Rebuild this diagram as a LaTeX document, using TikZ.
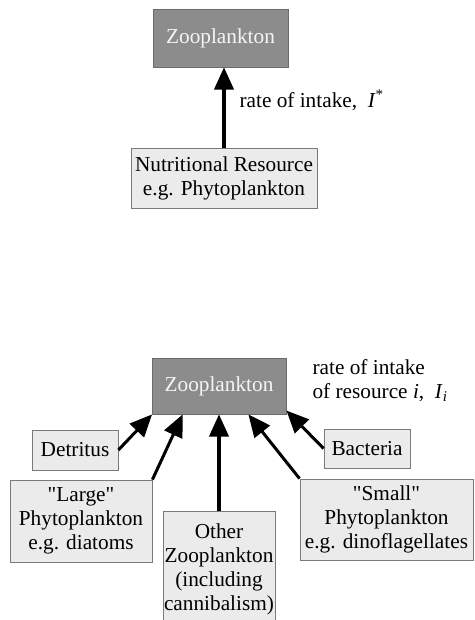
\documentclass[tikz,border=0pt]{standalone}
\usepackage{fontspec}
\setmainfont{Liberation Serif}
\usetikzlibrary{arrows.meta}

\begin{document}
\begin{tikzpicture}[x=0.035cm,y=-0.035cm,
    font=\fontsize{21.2}{23.9}\selectfont,
    zoobox/.style={draw=black!58, fill=black!45, text=black!4, line width=0.8pt, inner sep=0pt},
    foodbox/.style={draw=black!52, fill=black!8, line width=0.8pt, align=center, inner sep=0pt},
    feeds/.style={-{Triangle[length=0.78cm,width=0.68cm]}, line width=3pt}]
    \useasboundingbox (0,0) rectangle (475,620);

    % Schéma du haut : une seule ressource
    \node[zoobox, minimum width=4.73cm, minimum height=2.03cm] (zooA) at (220.5,38) {Zooplankton};
    \node[foodbox, minimum width=6.51cm, minimum height=2.1cm] (res) at (224,178)
        {Nutritional Resource\\e.g. Phytoplankton};
    \draw[feeds] (res.north) -- (res.north |- zooA.south);
    \node[anchor=west] (rateA) at (236,100) {rate of intake,\ \ \textit{I}\textsuperscript{*}};

    % Schéma du bas : plusieurs ressources i
    \node[zoobox, minimum width=4.69cm, minimum height=1.96cm] (zooB) at (219,386) {Zooplankton};
    \node[anchor=west, align=left] (rateB) at (309,381)
        {rate of intake\\of resource \textit{i},\ \ \textit{I}\textsubscript{\textit{i}}};

    \node[foodbox, minimum width=3.01cm, minimum height=1.4cm] (det) at (75,450) {Detritus};
    \node[foodbox, minimum width=3.01cm, minimum height=1.37cm] (bac) at (367,448.5) {Bacteria};
    \node[foodbox, minimum width=4.97cm, minimum height=2.87cm] (large) at (81,521)
        {\textquotedbl Large\textquotedbl\\Phytoplankton\\e.g. diatoms};
    \node[foodbox, minimum width=3.92cm, minimum height=4cm] (other) at (219,569)
        {Other\\Zooplankton\\(including\\cannibalism)};
    \node[foodbox, minimum width=6.06cm, minimum height=2.84cm] (small) at (386.5,519.5)
        {\textquotedbl Small\textquotedbl\\Phytoplankton\\e.g. dinoflagellates};

    % Flèches vers le zooplancton
    \draw[feeds] (det.east) -- (zooB.203);
    \draw[feeds] (large.north east) -- (zooB.218);
    \draw[feeds] (other.north) -- (other.north |- zooB.south);
    \draw[feeds] (small.north west) -- (zooB.316);
    \draw[feeds] (bac.west) -- (zooB.340);
\end{tikzpicture}
\end{document}
